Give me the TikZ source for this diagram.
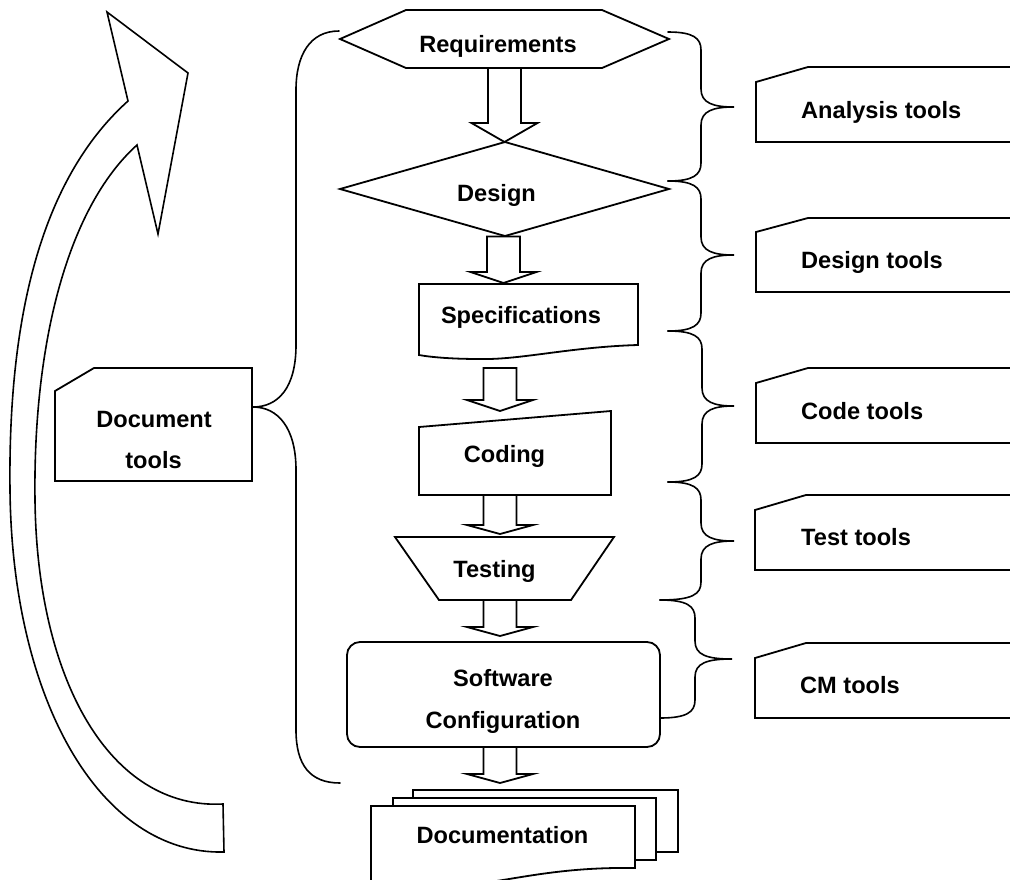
\documentclass[tikz,border=0pt]{standalone}
\usepackage{fontspec}
\setmainfont{Liberation Sans}
\usetikzlibrary{calc}
\newcommand\blockarrow[3]{%
  \draw[shp] let \p1=(#1), \p2=(#2) in
   (\x1-16.5pt,\y1) -- (\x1-16.5pt,\y2+#3) -- (\x1-33pt,\y2+#3) -- (\x1,\y2)
   -- (\x1+33pt,\y2+#3) -- (\x1+16.5pt,\y2+#3) -- (\x1+16.5pt,\y1) -- cycle;}
\newcommand\rbr[7]{%
  \draw[brc] (#1,#2) .. controls ({#3-8},#2) and (#3,{#2+6}) .. (#3,{#2+18})
   -- (#3,{#5-18}) .. controls (#3,{#5-4}) and ({#3+12},#5) .. (#4,#5)
   .. controls ({#3+12},#5) and (#3,{#5+4}) .. (#3,{#5+18})
   -- (#3,{#7-18}) .. controls (#3,{#7-6}) and ({#3-8},#7) .. (#6,#7);}
\begin{document}
\begin{tikzpicture}[x=1pt,y=-1pt,line join=miter,
  shp/.style={draw=black,line width=1.8pt},
  brc/.style={draw=black,line width=1.6pt,line cap=round},
  carrow/.style={draw=black,line width=1.6pt,fill=white},
  sheet/.style={draw=black,line width=1.8pt,fill=white},
  lbl/.style={font=\fontsize{23.6}{42}\selectfont\bfseries,inner sep=0pt}]
\useasboundingbox (0,0) rectangle (1010,879);
\fill[white] (0,0) rectangle (1010,879);

% curved arrow
\draw[carrow] (224,852) .. controls (100,855) and (12,700) .. (10,490)
  .. controls (8,320) and (40,180) .. (128,101) -- (107,12) -- (188,73)
  -- (158,234) -- (137,145) .. controls (65,210) and (33,350) .. (35,500)
  .. controls (37,680) and (110,810) .. (223,804) -- cycle;

% process shapes
\draw[shp] (340,39) -- (406,10) -- (602,10) -- (669,39) -- (602,68) -- (406,68) -- cycle;
\draw[shp] (505,142) -- (669,189) -- (505,236) -- (340,189) -- cycle;
\draw[shp] (419,284) -- (638,284) -- (638,345) .. controls (570,347) and (520,360) .. (480,359)
  .. controls (450,359) and (430,357) .. (419,355) -- cycle;
\draw[shp] (419,427) -- (611,411) -- (611,495) -- (419,495) -- cycle;
\draw[shp] (395,537) -- (614,537) -- (571,600) -- (439,600) -- cycle;
\draw[shp,rounded corners=13pt] (347,642) rectangle (660,747);

% documentation stack
\draw[sheet] (413,790) rectangle (678,852);
\draw[sheet] (393,798) rectangle (656,860);
\draw[sheet] (371,806) -- (635,806) -- (635,868) .. controls (570,867) and (530,876) .. (490,882)
  .. controls (450,888) and (400,888) .. (371,886) -- cycle;

% tool boxes
\draw[shp] (55,391) -- (94,368) -- (252,368) -- (252,481) -- (55,481) -- cycle;
\draw[shp] (756,82) -- (808,67) -- (1016,67) -- (1016,142) -- (756,142) -- cycle;
\draw[shp] (756,232) -- (808,218) -- (1016,218) -- (1016,292) -- (756,292) -- cycle;
\draw[shp] (756,383) -- (808,368) -- (1016,368) -- (1016,443) -- (756,443) -- cycle;
\draw[shp] (755,510) -- (806,495) -- (1016,495) -- (1016,570) -- (755,570) -- cycle;
\draw[shp] (755,658) -- (806,643) -- (1016,643) -- (1016,718) -- (755,718) -- cycle;

% block arrows
\coordinate (a1s) at (504.5,68);  \coordinate (a1e) at (504.5,142);
\coordinate (a2s) at (503.5,236.5); \coordinate (a2e) at (503.5,283);
\coordinate (a3s) at (500,368);   \coordinate (a3e) at (500,411);
\coordinate (a4s) at (500,495);   \coordinate (a4e) at (500,534);
\coordinate (a5s) at (500,600);   \coordinate (a5e) at (500,636);
\coordinate (a6s) at (500,747);   \coordinate (a6e) at (500,783);
\blockarrow{a1s}{a1e}{19}
\blockarrow{a2s}{a2e}{11}
\blockarrow{a3s}{a3e}{11}
\blockarrow{a4s}{a4e}{9}
\blockarrow{a5s}{a5e}{9}
\blockarrow{a6s}{a6e}{9}

% left brace
\draw[brc] (339,31) .. controls (310,31) and (296,55) .. (296,90) -- (296,345)
  .. controls (296,388) and (278,407) .. (253,407)
  .. controls (278,407) and (296,428) .. (296,470) -- (296,730)
  .. controls (296,765) and (310,783) .. (340,783);

% right braces
\rbr{668}{32}{701}{734}{107}{668}{181}
\rbr{668}{181}{701}{734}{255}{668}{331}
\rbr{668}{331}{702}{734}{406}{668}{482}
\rbr{668}{482}{701}{734}{541}{660}{600}
\rbr{660}{600}{695}{732}{659}{660}{718}

% labels
\node[lbl,anchor=base] (treq) at (498,52) {Requirements};
\node[lbl,anchor=base] (tdes) at (496.5,201) {Design};
\node[lbl,anchor=base] (tspec) at (521,323) {Specifications};
\node[lbl,anchor=base] (tcod) at (504.5,462) {Coding};
\node[lbl,anchor=base] (ttest) at (494.5,577) {Testing};
\node[lbl,anchor=base] (tsw) at (503,686) {Software};
\node[lbl,anchor=base] (tconf) at (503,728) {Configuration};
\node[lbl,anchor=base] (tdoc) at (502.5,843) {Documentation};
\node[lbl,anchor=base] (tdt1) at (154,427) {Document};
\node[lbl,anchor=base] (tdt2) at (153.5,468) {tools};
\node[lbl,anchor=base west] (tan) at (801,118) {Analysis tools};
\node[lbl,anchor=base west] (tdt) at (801,268) {Design tools};
\node[lbl,anchor=base west] (tct) at (801,419) {Code tools};
\node[lbl,anchor=base west] (ttt) at (801,545) {Test tools};
\node[lbl,anchor=base west] (tcm) at (800,693) {CM tools};
\end{tikzpicture}
\end{document}
